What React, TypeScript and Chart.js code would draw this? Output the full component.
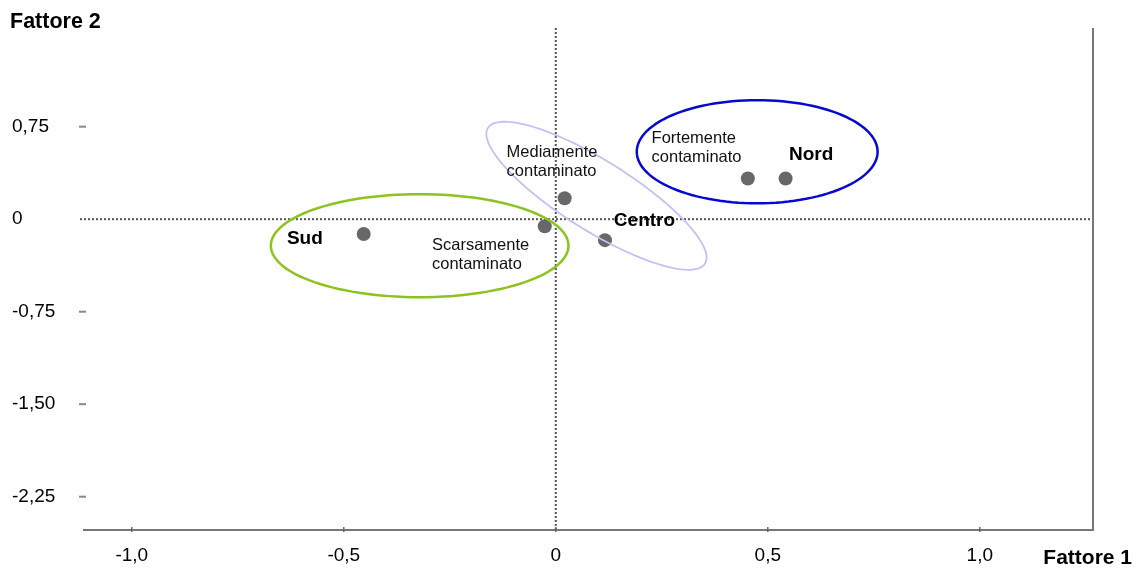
import { useEffect, useRef } from "react";
import { Chart, registerables } from "chart.js";

Chart.register(...registerables);

// ---- data ----
const xTickValues = [-1.0, -0.5, 0, 0.5, 1.0];
const xTickLabels = ["-1,0", "-0,5", "0", "0,5", "1,0"];
const yTickValues = [0.75, 0, -0.75, -1.5, -2.25];
const yTickLabels = ["0,75", "0", "-0,75", "-1,50", "-2,25"];

const pointX = [-0.453, -0.026, 0.021, 0.116, 0.453, 0.542];
const pointY = [-0.12, -0.057, 0.17, -0.17, 0.33, 0.33];

// regions (bold labels)
const regionNames = ["Sud", "Centro", "Nord"];
const regionX = [-0.634, 0.137, 0.55];
const regionY = [-0.154, -0.008, 0.527];

// contamination groups (ellipses + two-line labels)
const groupNames = ["Scarsamente\ncontaminato", "Mediamente\ncontaminato", "Fortemente\ncontaminato"];
const groupLabelX = [-0.292, -0.116, 0.226];
const groupLabelY = [-0.211, 0.543, 0.657];
const ellipseCenterX = [-0.321, 0.096, 0.475];
const ellipseCenterY = [-0.215, 0.19, 0.547];
const ellipseUx = [0.351, 0.256, 0.284];
const ellipseUy = [0, -0.55, 0];
const ellipseVx = [0, -0.0437, 0];
const ellipseVy = [0.418, -0.241, 0.418];

// ---- styles ----
const FONT = "'Liberation Sans', Arial, sans-serif";
const groupColors = ["#8dc31e", "#c2c2f2", "#0808d0"];
const groupLineWidths = [2.5, 1.8, 2.5];

const overlayPlugin = {
  id: "overlay",
  beforeDatasetsDraw(chart: any) {
    const ctx = chart.ctx as CanvasRenderingContext2D;
    const { left, right, top, bottom } = chart.chartArea;
    const xs = chart.scales.x;
    const ys = chart.scales.y;
    ctx.save();
    // zero dotted lines
    ctx.setLineDash([2, 2]);
    ctx.lineWidth = 2;
    ctx.strokeStyle = "#555";
    const y0 = ys.getPixelForValue(0);
    const x0 = xs.getPixelForValue(0);
    ctx.beginPath();
    ctx.moveTo(left - 3, y0);
    ctx.lineTo(right, y0);
    ctx.stroke();
    ctx.beginPath();
    ctx.moveTo(x0, top);
    ctx.lineTo(x0, bottom);
    ctx.stroke();
    ctx.setLineDash([]);
    // axis frame (bottom and right)
    ctx.strokeStyle = "#777";
    ctx.lineWidth = 2;
    ctx.beginPath();
    ctx.moveTo(left, bottom);
    ctx.lineTo(right, bottom);
    ctx.lineTo(right, top);
    ctx.stroke();
    // y tick dashes
    ctx.strokeStyle = "#888";
    ctx.lineWidth = 2;
    yTickValues.forEach((v) => {
      if (v === 0) return;
      const py = ys.getPixelForValue(v);
      ctx.beginPath();
      ctx.moveTo(left - 4, py);
      ctx.lineTo(left + 3, py);
      ctx.stroke();
    });
    // x tick marks
    ctx.lineWidth = 1.5;
    ctx.strokeStyle = "#666";
    xTickValues.forEach((v) => {
      const px = xs.getPixelForValue(v);
      ctx.beginPath();
      ctx.moveTo(px, bottom - 3);
      ctx.lineTo(px, bottom + 2);
      ctx.stroke();
    });
    ctx.restore();
  },
  afterDatasetsDraw(chart: any) {
    const ctx = chart.ctx as CanvasRenderingContext2D;
    const xs = chart.scales.x;
    const ys = chart.scales.y;
    ctx.save();
    // ellipses
    groupNames.forEach((_, i) => {
      ctx.beginPath();
      const steps = 120;
      for (let k = 0; k <= steps; k++) {
        const t = (k / steps) * Math.PI * 2;
        const vx = ellipseCenterX[i] + ellipseUx[i] * Math.cos(t) + ellipseVx[i] * Math.sin(t);
        const vy = ellipseCenterY[i] + ellipseUy[i] * Math.cos(t) + ellipseVy[i] * Math.sin(t);
        const px = xs.getPixelForValue(vx);
        const py = ys.getPixelForValue(vy);
        if (k === 0) ctx.moveTo(px, py);
        else ctx.lineTo(px, py);
      }
      ctx.closePath();
      ctx.strokeStyle = groupColors[i];
      ctx.lineWidth = groupLineWidths[i];
      ctx.stroke();
    });
    // group labels
    ctx.fillStyle = "#111";
    ctx.textAlign = "left";
    ctx.textBaseline = "middle";
    ctx.font = `16.5px ${FONT}`;
    groupNames.forEach((name, i) => {
      const px = xs.getPixelForValue(groupLabelX[i]);
      const py = ys.getPixelForValue(groupLabelY[i]);
      name.split("\n").forEach((line, j) => {
        ctx.fillText(line, px, py + j * 19.5);
      });
    });
    // region labels
    ctx.font = `bold 19px ${FONT}`;
    ctx.fillStyle = "#000";
    regionNames.forEach((name, i) => {
      ctx.fillText(name, xs.getPixelForValue(regionX[i]), ys.getPixelForValue(regionY[i]) + 1);
    });
    // axis titles
    ctx.font = `bold 21.5px ${FONT}`;
    ctx.textAlign = "left";
    ctx.fillText("Fattore 2", 10, 22);
    ctx.font = `bold 21px ${FONT}`;
    ctx.textAlign = "right";
    ctx.fillText("Fattore 1", 1132, 558);
    ctx.restore();
  },
};

export default function App() {
  const canvasRef = useRef<HTMLCanvasElement | null>(null);

  useEffect(() => {
    if (!canvasRef.current) return;
    const chart = new Chart(canvasRef.current, {
      type: "scatter",
      data: {
        datasets: [
          {
            data: pointX.map((x, i) => ({ x, y: pointY[i] })),
            backgroundColor: "#686868",
            borderWidth: 0,
            pointRadius: 7,
            pointHoverRadius: 7,
          },
        ],
      },
      options: {
        animation: false,
        responsive: false,
        devicePixelRatio: 1,
        layout: { padding: { left: 12, right: 41, top: 28, bottom: 0 } },
        plugins: { legend: { display: false }, tooltip: { enabled: false } },
        scales: {
          x: {
            type: "linear",
            min: -1.115,
            max: 1.267,
            afterBuildTicks: (s: any) => {
              s.ticks = xTickValues.map((v) => ({ value: v }));
            },
            afterFit: (s: any) => {
              s.height = 38;
            },
            ticks: {
              autoSkip: false,
              maxRotation: 0,
              padding: 14,
              color: "#000",
              font: { family: FONT, size: 19 },
              callback: (_v: any, i: number) => xTickLabels[i],
            },
            grid: { display: false, drawTicks: false },
            border: { display: false },
          },
          y: {
            type: "linear",
            min: -2.52,
            max: 1.55,
            afterBuildTicks: (s: any) => {
              s.ticks = yTickValues.map((v) => ({ value: v }));
            },
            afterFit: (s: any) => {
              s.width = 71;
            },
            ticks: {
              autoSkip: false,
              crossAlign: "far",
              color: "#000",
              font: { family: FONT, size: 19 },
              callback: (_v: any, i: number) => yTickLabels[i],
            },
            grid: { display: false, drawTicks: false },
            border: { display: false },
          },
        },
      },
      plugins: [overlayPlugin],
    } as any);
    return () => chart.destroy();
  }, []);

  return (
    <div style={{ position: "fixed", left: 0, top: 0, width: 1134, height: 568, background: "#fff" }}>
      <canvas ref={canvasRef} width={1134} height={568} style={{ display: "block" }} />
    </div>
  );
}
